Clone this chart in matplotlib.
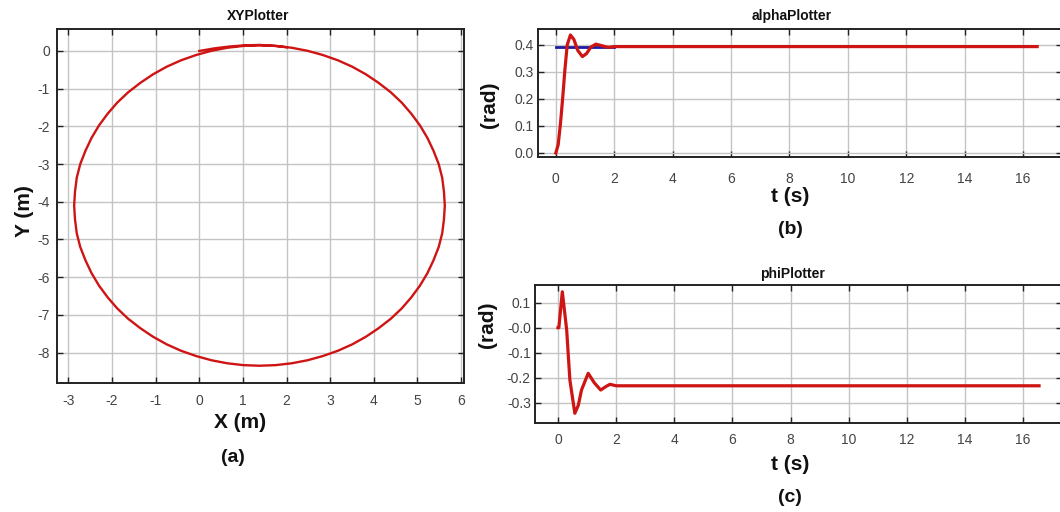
import matplotlib
matplotlib.use("Agg")
import matplotlib.pyplot as plt

# XY trajectory (m): starts at (0, 0), runs clockwise once round
xy_x = [0.00, 0.35, 0.70, 1.05, 1.38,
        1.75, 2.12, 2.48, 2.83, 3.18, 3.51, 3.82, 4.11, 4.39, 4.64, 4.86, 5.06, 5.23, 5.37,
        5.49, 5.57, 5.61, 5.63,
        5.61, 5.57, 5.49, 5.37, 5.23, 5.06, 4.86, 4.64, 4.39, 4.11, 3.82, 3.51, 3.18, 2.83,
        2.48, 2.12, 1.75, 1.38,
        1.01, 0.64, 0.28, -0.07, -0.42, -0.75, -1.06, -1.35, -1.63, -1.88, -2.10, -2.30,
        -2.47, -2.61, -2.73, -2.81, -2.85, -2.87,
        -2.85, -2.81, -2.73, -2.61, -2.47, -2.30, -2.10, -1.88, -1.63, -1.35, -1.06, -0.75,
        -0.42, -0.07, 0.28, 0.64, 1.01, 1.38, 1.75, 2.00]
xy_y = [0.00, 0.07, 0.12, 0.15, 0.16,
        0.134, 0.085, 0.005, -0.106, -0.248, -0.419, -0.619, -0.844, -1.095, -1.368, -1.662,
        -1.975, -2.304, -2.646, -3.000, -3.362, -3.730, -4.100,
        -4.470, -4.838, -5.200, -5.554, -5.896, -6.225, -6.538, -6.832, -7.105, -7.356,
        -7.581, -7.781, -7.952, -8.094, -8.205, -8.285, -8.334, -8.350,
        -8.334, -8.285, -8.205, -8.094, -7.952, -7.781, -7.581, -7.356, -7.105, -6.832,
        -6.538, -6.225, -5.896, -5.554, -5.200, -4.838, -4.470, -4.100,
        -3.730, -3.362, -3.000, -2.646, -2.304, -1.975, -1.662, -1.368, -1.095, -0.844,
        -0.619, -0.419, -0.248, -0.106, 0.005, 0.085, 0.134, 0.150, 0.134, 0.10]

# alpha response (rad) and its reference
alpha_t = [0.0, 0.08, 0.16, 0.24, 0.31, 0.39, 0.50, 0.62, 0.75, 0.91, 1.05, 1.20, 1.37, 1.55, 1.79, 2.0, 16.48]
alpha_v = [0.0, 0.03, 0.11, 0.21, 0.307, 0.40, 0.437, 0.42, 0.38, 0.357, 0.368, 0.392, 0.403, 0.398, 0.391, 0.394, 0.394]
alpha_ref_t = [0.0, 2.0]
alpha_ref_v = [0.394, 0.394]

# phi response (rad)
phi_t = [0.0, 0.03, 0.15, 0.30, 0.41, 0.58, 0.70, 0.81, 1.04, 1.25, 1.47, 1.65, 1.79, 2.0, 16.55]
phi_v = [0.0, 0.0, 0.144, -0.009, -0.209, -0.342, -0.31, -0.249, -0.182, -0.22, -0.249, -0.235, -0.226, -0.232, -0.232]

xy_xticks = list(range(-3, 7))
xy_yticks = list(range(-8, 1))
t_ticks = list(range(0, 17, 2))
alpha_ticks = [0.0, 0.1, 0.2, 0.3, 0.4]
alpha_labels = ["0.0", "0.1", "0.2", "0.3", "0.4"]
phi_ticks = [0.1, 0.0, -0.1, -0.2, -0.3]
phi_labels = ["0.1", "-0.0", "-0.1", "-0.2", "-0.3"]

plt.rcParams['font.family'] = ['Liberation Sans', 'DejaVu Sans']
plt.rcParams['axes.unicode_minus'] = False
RED = '#cf1414'
W, H = 1060, 512

fig = plt.figure(figsize=(W / 100, H / 100), dpi=100)


def px_axes(x0, y0, x1, y1):
    return fig.add_axes([x0 / W, 1 - y1 / H, (x1 - x0) / W, (y1 - y0) / H])


def style(ax, xpad, ypad):
    ax.grid(True, color='#c4c4c4', linewidth=1.0)
    ax.set_axisbelow(True)
    ax.tick_params(direction='in', top=True, right=True, length=4, width=1,
                   colors='#222222', labelcolor='#444444', labelsize=10)
    ax.tick_params(axis='x', pad=xpad)
    ax.tick_params(axis='y', pad=ypad)
    for s in ax.spines.values():
        s.set_linewidth(1.4)
        s.set_color('#222222')


def ftext(x, y, s, size, rot=0, bold=True):
    fig.text(x / W, 1 - y / H, s, ha='center', va='center', fontsize=size,
             rotation=rot, fontweight='bold' if bold else 'normal', color='#111111')


# (a) XY plot
ax1 = px_axes(56.7, 29.3, 464, 382.7)
ax1.plot(xy_x, xy_y, color=RED, linewidth=1.7, solid_joinstyle='round')
ax1.set_xlim(-3.27, 6.07)
ax1.set_ylim(-8.8, 0.575)
ax1.set_xticks(xy_xticks)
ax1.set_yticks(xy_yticks)
style(ax1, 8, 5)
ftext(258, 16, "XYPlotter", 10)
ftext(240, 423, "X (m)", 15)
ftext(233, 457, "(a)", 14)
ftext(24, 211, "Y (m)", 15, rot=90)

# (b) alpha plot
ax2 = px_axes(538, 29.3, 1062, 156.7)
ax2.plot(alpha_ref_t, alpha_ref_v, color='#1c1ca0', linewidth=2.0)
ax2.plot(alpha_t, alpha_v, color=RED, linewidth=2.3, solid_joinstyle='round')
ax2.set_xlim(-0.61, 17.33)
ax2.set_ylim(-0.0137, 0.458)
ax2.set_xticks(t_ticks)
ax2.set_yticks(alpha_ticks)
ax2.set_yticklabels(alpha_labels)
style(ax2, 11, 3)
ftext(792, 16, "alphaPlotter", 10)
ftext(790, 197, "t (s)", 15)
ftext(790, 229, "(b)", 14)
ftext(489, 105, "(rad)", 15, rot=90)

# (c) phi plot
ax3 = px_axes(535, 285, 1062, 423.3)
ax3.plot(phi_t, phi_v, color=RED, linewidth=2.3, solid_joinstyle='round')
ax3.set_xlim(-0.79, 17.34)
ax3.set_ylim(-0.382, 0.171)
ax3.set_xticks(t_ticks)
ax3.set_yticks(phi_ticks)
ax3.set_yticklabels(phi_labels)
style(ax3, 7, 3)
ftext(792, 274, "phiPlotter", 10)
ftext(790, 464, "t (s)", 15)
ftext(790, 497, "(c)", 14)
ftext(488, 325, "(rad)", 15, rot=90)

fig.savefig("out.png", dpi=100)
